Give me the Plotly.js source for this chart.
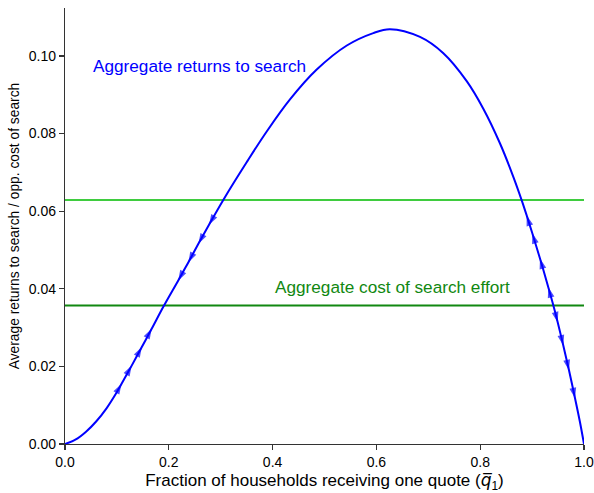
<!DOCTYPE html>
<html>
<head>
<meta charset="utf-8">
<script src="https://cdn.plot.ly/plotly-3.0.1.min.js"></script>
<style>html,body{margin:0;padding:0;background:#fff;}#chart{width:594px;height:493px;}</style>
</head>
<body>
<div id="chart"></div>
<script>
// Curve: aggregate returns to search
const curveX = [0, 0.02, 0.04, 0.06, 0.08, 0.10, 0.109, 0.1285, 0.148, 0.167, 0.19, 0.218, 0.2376, 0.257, 0.2775, 0.305, 0.35, 0.389, 0.4335, 0.485, 0.543, 0.594, 0.626, 0.684, 0.729, 0.774, 0.806, 0.838, 0.864, 0.88, 0.8896, 0.9004, 0.9152, 0.9312, 0.941, 0.9493, 0.9601, 0.9711, 0.9827, 0.992, 1.0];
const curveY = [0, 0.0011, 0.0031, 0.0058, 0.0092, 0.0134, 0.0155, 0.0202, 0.0250, 0.0297, 0.0355, 0.0421, 0.0468, 0.0516, 0.0565, 0.0629, 0.0726, 0.0806, 0.0888, 0.0965, 0.1027, 0.1059, 0.1069, 0.1049, 0.1007, 0.0935, 0.0864, 0.0775, 0.0688, 0.0628, 0.0589, 0.0543, 0.0478, 0.0404, 0.0357, 0.0314, 0.0254, 0.0190, 0.0118, 0.0058, 0];

// Horizontal levels
const oppCostLevel = 0.0629;   // light green
const searchCostLevel = 0.0357; // dark green

// Arrow positions on the curve and direction (+1 toward larger x, -1 toward smaller x)
const arrowX = [0.109, 0.1285, 0.148, 0.167, 0.218, 0.2376, 0.257, 0.2775, 0.8896, 0.9004, 0.9152, 0.9312, 0.9493, 0.9601, 0.9711, 0.9827];
const arrowDir = [1, 1, 1, 1, -1, -1, -1, -1, -1, -1, -1, -1, 1, 1, 1, 1];

// Tick labels
const xTicks = [0, 0.2, 0.4, 0.6, 0.8, 1.0];
const xTickText = ["0.0", "0.2", "0.4", "0.6", "0.8", "1.0"];
const yTicks = [0, 0.02, 0.04, 0.06, 0.08, 0.10];
const yTickText = ["0.00", "0.02", "0.04", "0.06", "0.08", "0.10"];

const FONT = "Liberation Sans, Arial, sans-serif";

// build arrow trace: pairs (tail, head), marker only on head, oriented from tail
const ax = [], ay = [], asz = [];
arrowX.forEach((x, k) => {
  const i = curveX.indexOf(x);
  const t = i - arrowDir[k];
  ax.push(curveX[t], curveX[i]);
  ay.push(curveY[t], curveY[i]);
  asz.push(0, 11);
});

const traces = [
  {x: [0, 1], y: [oppCostLevel, oppCostLevel], mode: 'lines', line: {color: '#3fcc3f', width: 2}, hoverinfo: 'skip'},
  {x: [0, 1], y: [searchCostLevel, searchCostLevel], mode: 'lines', line: {color: '#118811', width: 2}, hoverinfo: 'skip'},
  {x: curveX, y: curveY, mode: 'lines', line: {color: '#0000ff', width: 2, shape: 'spline', smoothing: 1}, hoverinfo: 'skip'},
  {x: ax, y: ay, mode: 'markers', marker: {symbol: 'arrow', angleref: 'previous', size: asz, color: '#0000ff', line: {width: 0}}, hoverinfo: 'skip'}
];

const layout = {
  width: 594, height: 493,
  margin: {l: 65, r: 10, t: 8, b: 49},
  paper_bgcolor: '#fff', plot_bgcolor: '#fff',
  showlegend: false,
  font: {family: FONT, size: 12, color: '#000'},
  xaxis: {
    range: [0, 1], tickvals: xTicks, ticktext: xTickText,
    showgrid: false, zeroline: false, showline: true, linecolor: '#333', linewidth: 1.2,
    ticks: 'outside', ticklen: 5, tickwidth: 1.2, tickcolor: '#333',
    tickfont: {family: FONT, size: 14, color: '#000'},
    title: {text: 'Fraction of households receiving one quote (<span style="font-family:DejaVu Sans"><i>q\u0305</i></span><sub>1</sub>)', font: {family: FONT, size: 17, color: '#000'}, standoff: 5}
  },
  yaxis: {
    range: [0, 0.11236], tickvals: yTicks, ticktext: yTickText,
    showgrid: false, zeroline: false, showline: true, linecolor: '#333', linewidth: 1.2,
    ticks: 'outside', ticklen: 5, tickwidth: 1.2, tickcolor: '#333',
    tickfont: {family: FONT, size: 14, color: '#000'},
    title: {text: 'Average returns to search / opp. cost of search', font: {family: FONT, size: 13.8, color: '#000'}, standoff: 6}
  },
  annotations: [
    {x: 0.05, y: 0.0973, xref: 'x', yref: 'y', text: 'Aggregate returns to search', showarrow: false, xanchor: 'left', yanchor: 'middle', font: {family: FONT, size: 17.2, color: '#0000ff'}},
    {x: 0.40, y: 0.0404, xref: 'x', yref: 'y', text: 'Aggregate cost of search effort', showarrow: false, xanchor: 'left', yanchor: 'middle', font: {family: FONT, size: 17.2, color: '#118811'}}
  ]
};

Plotly.newPlot('chart', traces, layout, {displayModeBar: false, staticPlot: true});
</script>
</body>
</html>
